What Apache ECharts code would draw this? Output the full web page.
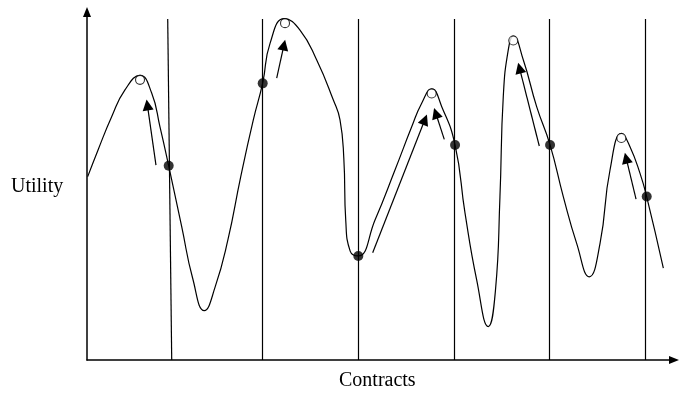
<!DOCTYPE html>
<html>
<head>
<meta charset="utf-8">
<style>
  html, body { margin: 0; padding: 0; background: #fff; }
  #chart { width: 679px; height: 398px; }
</style>
<script src="https://cdn.jsdelivr.net/npm/echarts@6/dist/echarts.min.js"></script>
</head>
<body>
<div id="chart"></div>
<script>
// Utility curve over contracts (x: 0..60, y: 0..100, arbitrary units)
var curvePoints = [
  [0.07, 52.7], [1.12, 60.3], [2.52, 69.9], [3.88, 77.6], [5.42, 81.8],
  [6.61, 76.7], [7.46, 67.0], [8.35, 55.8], [9.68, 38.3], [10.80, 23.5],
  [11.99, 14.2], [13.10, 21.0], [14.40, 34.5], [15.70, 52.5], [17.00, 69.0], [17.96, 79.6],
  [18.71, 91.0], [20.17, 98.1], [21.77, 94.8], [23.48, 86.2], [25.18, 74.7],
  [25.86, 69.0], [26.25, 58.0], [26.45, 40.0], [26.90, 31.3], [27.73, 29.9],
  [29.44, 40.2], [31.48, 54.6], [33.19, 67.0], [34.21, 73.8], [35.23, 77.9], [36.26, 72.8],
  [37.62, 61.8], [38.64, 42.2], [39.83, 23.0],
  [41.02, 9.6], [41.75, 20.0], [42.21, 46.9], [42.55, 75.7], [43.06, 89.1], [43.57, 93.1],
  [44.60, 86.2], [45.96, 72.8], [47.33, 61.8], [48.69, 46.9], [50.05, 33.5], [51.34, 23.9],
  [52.44, 33.5], [53.46, 54.6], [54.65, 65.1], [55.50, 61.3], [56.52, 53.7],
  [57.21, 46.9], [58.91, 26.4]
];
// Contract boundaries (vertical lines): [xTop, xBottom]
var dividers = [[8.25, 8.66], [17.94, 17.94], [27.73, 27.73], [37.54, 37.54], [47.27, 47.27], [57.04, 57.04]];
var dividerTop = 98.0;
// Filled points (current positions)
var filledPoints = [[8.35, 55.8], [17.96, 79.5], [27.73, 29.9], [37.62, 61.8], [47.33, 61.8], [57.21, 47.0]];
// Open points (local optima)
var openPoints = [[5.42, 80.5], [20.24, 96.8], [35.23, 76.6], [43.57, 91.8], [54.62, 63.8]];
// Hill-climbing arrows: [tail, head]
var arrows = [
  [[7.05, 56.0], [6.17, 73.3]],
  [[19.39, 81.0], [20.13, 90.5]],
  [[29.20, 30.8], [34.54, 69.1]],
  [[36.52, 63.4], [35.65, 70.9]],
  [[46.23, 61.5], [44.21, 83.9]],
  [[56.12, 46.2], [55.11, 58.0]]
];
var xAxisTitle = 'Contracts';
var yAxisTitle = 'Utility';

var ink = '#000';
var chart = echarts.init(document.getElementById('chart'), null, { renderer: 'canvas' });

var axisCommon = {
  type: 'value',
  splitLine: { show: false },
  axisTick: { show: false },
  axisLabel: { show: false },
  axisLine: {
    show: true,
    onZero: false,
    symbol: ['none', 'triangle'],
    symbolSize: [8, 10],
    lineStyle: { color: ink, width: 1.5 }
  }
};

chart.setOption({
  animation: false,
  backgroundColor: '#fff',
  grid: { left: 87, right: 5, top: 12, bottom: 38, containLabel: false },
  xAxis: Object.assign({}, axisCommon, { min: 0, max: 60 }),
  yAxis: Object.assign({}, axisCommon, { min: 0, max: 100 }),
  graphic: [
    { type: 'text', left: 11, top: 177, style: { text: yAxisTitle, font: '20px "Liberation Serif", serif', fill: ink } },
    { type: 'text', left: 339, top: 371, style: { text: xAxisTitle, font: '20px "Liberation Serif", serif', fill: ink } }
  ],
  series: [
    {
      type: 'lines',
      coordinateSystem: 'cartesian2d',
      z: 1,
      symbol: ['none', 'none'],
      lineStyle: { color: ink, width: 1.2, opacity: 1, curveness: 0 },
      data: dividers.map(function (d) { return { coords: [[d[0], dividerTop], [d[1], 0]] }; })
    },
    {
      type: 'line',
      z: 2,
      data: curvePoints,
      smooth: 0.5,
      showSymbol: false,
      symbol: 'none',
      lineStyle: { color: ink, width: 1.2 }
    },
    {
      type: 'lines',
      coordinateSystem: 'cartesian2d',
      z: 3,
      symbol: ['none', 'triangle'],
      symbolSize: [7, 11],
      lineStyle: { color: ink, width: 1.2, opacity: 1, curveness: 0 },
      itemStyle: { color: ink },
      data: arrows.map(function (a) { return { coords: a }; })
    },
    {
      type: 'scatter',
      z: 4,
      data: filledPoints,
      symbol: 'circle',
      symbolSize: 10,
      itemStyle: { color: ink }
    },
    {
      type: 'scatter',
      z: 4,
      data: openPoints,
      symbol: 'circle',
      symbolSize: 9,
      itemStyle: { color: '#fff', borderColor: ink, borderWidth: 1.1 }
    }
  ]
});
</script>
</body>
</html>
